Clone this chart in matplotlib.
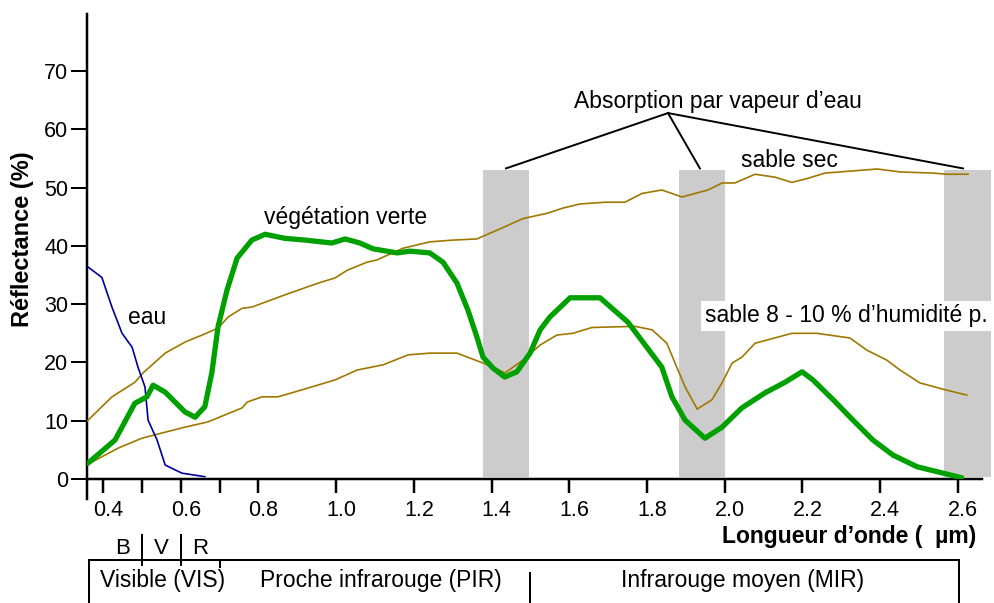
import numpy as np
import matplotlib
matplotlib.use("Agg")
import matplotlib.pyplot as plt
from matplotlib.transforms import blended_transform_factory, ScaledTranslation

plt.rcParams["font.family"] = ["Liberation Sans", "DejaVu Sans"]

# --- data (wavelength in um, reflectance in %) ---
veg_wl = [0.361, 0.431, 0.482, 0.513, 0.529, 0.560, 0.611, 0.637, 0.662, 0.680,
          0.696, 0.719, 0.745, 0.783, 0.817, 0.868, 0.920, 0.989, 1.023, 1.061,
          1.095, 1.157, 1.190, 1.241, 1.275, 1.311, 1.339, 1.362, 1.378, 1.404,
          1.434, 1.465, 1.499, 1.525, 1.550, 1.602, 1.679, 1.751, 1.795, 1.838,
          1.864, 1.898, 1.949, 1.993, 2.044, 2.104, 2.155, 2.199, 2.227, 2.279,
          2.330, 2.381, 2.433, 2.495, 2.562, 2.610]
veg_r = [2.7, 6.7, 13.0, 14.1, 16.1, 14.9, 11.5, 10.6, 12.4, 18.2,
         26.1, 32.4, 37.9, 41.0, 42.0, 41.3, 41.0, 40.5, 41.2, 40.5,
         39.5, 38.8, 39.1, 38.8, 37.2, 33.6, 29.0, 24.4, 20.9, 19.0,
         17.5, 18.4, 21.6, 25.6, 27.8, 31.1, 31.1, 26.9, 23.0, 19.2,
         14.1, 10.1, 7.0, 8.9, 12.2, 14.8, 16.6, 18.4, 17.0, 13.6,
         10.1, 6.7, 4.1, 2.1, 1.0, 0.2]

dry_wl = [0.36, 0.423, 0.482, 0.503, 0.560, 0.611, 0.655, 0.696, 0.722, 0.758,
          0.783, 0.868, 0.953, 0.997, 1.028, 1.079, 1.105, 1.172, 1.241, 1.301,
          1.362, 1.414, 1.481, 1.543, 1.584, 1.627, 1.692, 1.743, 1.787, 1.838,
          1.890, 1.957, 1.993, 2.026, 2.078, 2.129, 2.173, 2.214, 2.258, 2.297,
          2.392, 2.451, 2.536, 2.572, 2.626]
dry_r = [10.0, 14.1, 16.6, 18.2, 21.6, 23.5, 24.7, 25.9, 27.8, 29.3,
         29.5, 31.6, 33.6, 34.5, 35.8, 37.2, 37.6, 39.6, 40.7, 41.0,
         41.2, 42.7, 44.7, 45.6, 46.5, 47.2, 47.5, 47.5, 49.0, 49.6,
         48.4, 49.6, 50.8, 50.8, 52.3, 51.8, 50.9, 51.6, 52.5, 52.7,
         53.2, 52.7, 52.5, 52.3, 52.3]

wet_wl = [0.36, 0.439, 0.500, 0.552, 0.611, 0.670, 0.714, 0.758, 0.771, 0.809,
          0.850, 0.912, 0.997, 1.054, 1.121, 1.185, 1.241, 1.311, 1.378, 1.404,
          1.434, 1.481, 1.525, 1.568, 1.609, 1.658, 1.769, 1.813, 1.851, 1.872,
          1.898, 1.929, 1.967, 1.993, 2.019, 2.044, 2.078, 2.173, 2.237, 2.322,
          2.366, 2.417, 2.451, 2.502, 2.562, 2.623]
wet_r = [2.5, 5.3, 7.0, 7.9, 8.9, 9.8, 11.0, 12.2, 13.2, 14.1,
         14.1, 15.3, 17.0, 18.7, 19.6, 21.3, 21.6, 21.6, 19.9, 19.2,
         18.2, 20.4, 23.0, 24.7, 25.0, 26.0, 26.2, 25.6, 23.3, 19.9,
         15.8, 12.0, 13.6, 16.5, 19.9, 20.9, 23.3, 25.0, 25.0, 24.2,
         22.1, 20.4, 18.7, 16.5, 15.4, 14.4]

water_wl = [0.361, 0.397, 0.423, 0.449, 0.475, 0.490, 0.508, 0.516, 0.539, 0.560,
            0.603, 0.662]
water_r = [36.4, 34.6, 29.5, 25.0, 22.6, 19.2, 15.8, 10.1, 6.7, 2.4,
           1.0, 0.4]

# water vapour absorption bands (start, end) and their top
bands = [(1.378, 1.496), (1.882, 2.0), (2.564, 2.685)]
band_top = 53.0

xticks = [0.4, 0.6, 0.8, 1.0, 1.2, 1.4, 1.6, 1.8, 2.0, 2.2, 2.4, 2.6]
xticks_minor = [0.5, 0.7]
yticks = [0, 10, 20, 30, 40, 50, 60, 70]

GREEN = "#00a000"
BROWN = "#a07800"
BLUE = "#0000a0"
GRAY = "#cccccc"

PX = 0.72  # one pixel in points at dpi 100

fig = plt.figure(figsize=(9.94, 6.03), dpi=100)
ax = fig.add_axes([87 / 994, 124 / 603, 895 / 994, 465 / 603])
ax.set_xlim(0.3588, 2.662)
ax.set_ylim(0, 79.8)

for b0, b1 in bands:
    ax.fill_between([b0, b1], 0.3, band_top, color=GRAY, lw=0, zorder=1,
                    clip_on=False)

ax.plot(dry_wl, dry_r, color=BROWN, lw=1.2, zorder=3)
ax.plot(wet_wl, wet_r, color=BROWN, lw=1.2, zorder=3)
ax.plot(water_wl, water_r, color=BLUE, lw=1.2, zorder=3)
ax.plot(veg_wl, veg_r, color=GREEN, lw=3.8, zorder=4, solid_capstyle="round")

fs = 16.5
ax.text(0.464, 27.8, "eau", fontsize=fs, va="center", zorder=5)
ax.text(0.814, 44.9, "végétation verte", fontsize=fs, va="center", zorder=5)
ax.text(2.042, 54.6, "sable sec", fontsize=fs, va="center", zorder=5)
ax.text(1.949, 28.0, "sable 8 - 10 % d’humidité p.", fontsize=fs, va="center",
        zorder=5, clip_on=False,
        bbox=dict(facecolor="white", edgecolor="none", pad=2.5))
ax.text(1.983, 64.8, "Absorption par vapeur d’eau", fontsize=fs, ha="center",
        va="center", zorder=5)
for tx in (1.437, 1.936, 2.613):
    ax.plot([1.854, tx], [62.8, 53.3], color="black", lw=1.4, zorder=5,
            clip_on=False)

# axes styling
for s in ("top", "right"):
    ax.spines[s].set_visible(False)
for s in ("left", "bottom"):
    ax.spines[s].set_linewidth(2.5 * PX)
ax.set_xticks(xticks)
ax.set_xticks(xticks_minor, minor=True)
ax.set_xticklabels([f"{v:.1f}" for v in xticks])
ax.set_yticks(yticks)
ax.tick_params(axis="x", which="both", direction="out", length=14 * PX,
               width=2.5 * PX, labelsize=15.5, pad=5)
ax.tick_params(axis="y", direction="out", length=16 * PX, width=2 * PX,
               labelsize=15.5, pad=2)
off = ScaledTranslation(5 / 100, 0, fig.dpi_scale_trans)
for lab in ax.get_xticklabels():
    lab.set_transform(lab.get_transform() + off)
ax.plot([0.3588, 0.3588], [0, -3.5], color="black", lw=2.5 * PX,
        clip_on=False)

ax.set_ylabel("Réflectance (%)", fontsize=17, fontweight="bold")
ax.yaxis.set_label_coords(-53 / 895, 0.515)
fig.text(976 / 994, 1 - 537 / 603, "Longueur d’onde (  µm)", fontsize=16.5,
         fontweight="bold", ha="right", va="center")

# spectral region boxes below the axis
tr = blended_transform_factory(ax.transData, fig.transFigure)


def fy(py):
    return 1 - py / 603


kw = dict(color="black", lw=2 * PX, transform=tr, clip_on=False)
for xv in (0.5, 0.6):
    fig.add_artist(plt.Line2D([xv, xv], [fy(535), fy(565)], **kw))
fig.add_artist(plt.Line2D([0.364, 2.603], [fy(560), fy(560)], **kw))
fig.add_artist(plt.Line2D([0.364, 0.364], [fy(560), fy(603)], **kw))
fig.add_artist(plt.Line2D([2.603, 2.603], [fy(560), fy(603)], **kw))
fig.add_artist(plt.Line2D([0.7, 0.7], [fy(560), fy(567)], **kw))
fig.add_artist(plt.Line2D([1.5, 1.5], [fy(573), fy(603)], **kw))

for lbl, xv in (("B", 0.45), ("V", 0.55), ("R", 0.65)):
    fig.text(xv, fy(548), lbl, fontsize=16, ha="center", va="center",
             transform=tr)
fig.text(0.552, fy(580), "Visible (VIS)", fontsize=16.5, ha="center",
         va="center", transform=tr)
fig.text(1.115, fy(580), "Proche infrarouge (PIR)", fontsize=16.5,
         ha="center", va="center", transform=tr)
fig.text(2.045, fy(580), "Infrarouge moyen (MIR)", fontsize=16.5,
         ha="center", va="center", transform=tr)

fig.savefig("out.png", dpi=100)
